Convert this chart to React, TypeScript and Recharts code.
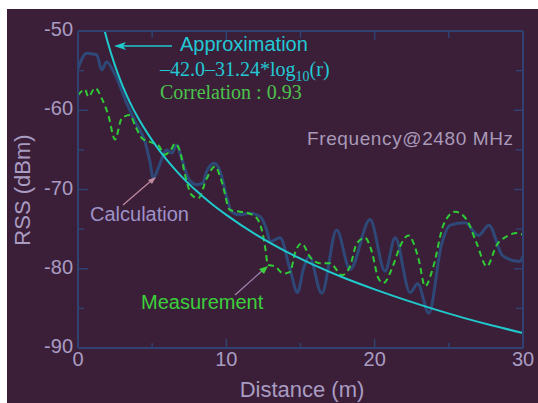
import React from "react";
import { LineChart, Line, XAxis, YAxis } from "recharts";

// Calculation (solid blue)
const calcX = [0, 0.59, 1.26, 1.6, 1.93, 2.5, 3.28, 3.84, 4.52, 4.85, 5.08, 5.41, 5.98, 6.32, 6.65, 6.99, 7.44, 8.0, 8.4, 8.68, 9.2, 9.6, 10.03, 10.36, 10.92, 11.6, 12.27, 12.72, 12.95, 13.62, 14.3, 14.8, 15.2, 15.6, 16.43, 17.44, 18.34, 19.69, 20.7, 21.38, 22.39, 22.9, 23.65, 24.5, 25.1, 26.1, 27.0, 27.7, 28.6, 29.4, 29.8, 30];
const calcY = [-54.7, -52.8, -53.0, -54.9, -53.9, -55.5, -59.1, -61.4, -64.0, -66.5, -68.6, -67.3, -65.0, -65.4, -64.4, -66.1, -68.6, -69.4, -69.2, -67.7, -66.7, -67.8, -71.0, -72.8, -73.2, -73.0, -73.4, -75.1, -76.6, -76.1, -80.1, -83.0, -80.0, -78.5, -83.1, -75.1, -80.1, -73.8, -80.3, -76.1, -83.0, -81.9, -85.6, -77.0, -74.5, -74.2, -75.8, -74.5, -78.3, -79.0, -79.1, -78.4];

// Measurement (dashed green)
const measX = [0, 0.47, 0.7, 1.15, 1.6, 2.04, 2.5, 2.95, 3.5, 3.84, 4.3, 4.85, 5.41, 5.87, 6.32, 6.54, 6.88, 7.22, 7.67, 8.11, 8.68, 9.24, 9.69, 10.25, 10.92, 11.49, 12.05, 12.39, 12.61, 12.8, 13.28, 13.84, 14.3, 14.63, 15.08, 15.64, 16.3, 16.99, 17.8, 18.34, 18.79, 19.35, 19.8, 20.25, 20.59, 21.26, 21.71, 22.27, 22.95, 23.4, 23.96, 24.63, 25.42, 26.2, 26.88, 27.56, 28.23, 28.91, 29.58, 30];
const measY = [-58.1, -57.4, -58.3, -57.2, -58.5, -60.6, -63.7, -61.0, -60.6, -61.9, -63.5, -64.0, -64.4, -65.6, -64.8, -64.2, -65.2, -68.2, -70.7, -71.1, -68.6, -67.1, -69.0, -72.6, -72.8, -73.0, -73.6, -75.1, -77.2, -79.5, -79.7, -80.6, -80.4, -78.0, -76.8, -78.5, -79.3, -79.3, -80.8, -79.7, -76.8, -76.1, -77.8, -81.2, -81.8, -79.5, -77.2, -75.8, -78.7, -82.2, -79.7, -74.5, -72.8, -73.8, -76.8, -79.7, -77.0, -75.9, -75.5, -75.7];

// Approximation (solid cyan)
const approxX = [1.8, 2, 2.5, 3, 3.5, 4, 5, 6, 7, 8, 9, 10, 12, 14, 16, 18, 20, 22, 24, 26, 28, 30];
const approxY = [-50.0, -51.4, -54.4, -56.9, -59.0, -60.8, -63.8, -66.3, -68.4, -70.2, -71.8, -73.2, -75.7, -77.8, -79.6, -81.2, -82.6, -83.9, -85.1, -86.2, -87.2, -88.1];

const xTicks = [0, 5, 10, 15, 20, 25, 30];
const yTicks = [-90, -85, -80, -75, -70, -65, -60, -55, -50];

const toRows = (xs: number[], ys: number[]) => xs.map((x, i) => ({ x, y: ys[i] }));
const calcData = toRows(calcX, calcY);
const measData = toRows(measX, measY);
const approxData = toRows(approxX, approxY);

const bg = "#3b1f38";
const axisColor = "#2f4272";
const labelColor = "#a99cc2";
const sans = "'Liberation Sans', Arial, sans-serif";
const serif = "'Liberation Serif', 'Times New Roman', serif";

const BottomTick = (props: any) => {
  const { x, y, payload } = props;
  const major = payload.value % 10 === 0;
  return (
    <g>
      <line x1={x} x2={x} y1={y} y2={y - (major ? 9 : 5)} stroke={axisColor} strokeWidth={1.5} />
      {major && (
        <text x={x} y={y + 18} textAnchor="middle" fontSize={20} fontFamily={sans} fill={labelColor}>
          {payload.value}
        </text>
      )}
    </g>
  );
};

const TopTick = (props: any) => {
  const { x, y, payload } = props;
  const major = payload.value % 10 === 0;
  return <line x1={x} x2={x} y1={y} y2={y + (major ? 9 : 7)} stroke={axisColor} strokeWidth={1.5} />;
};

const LeftTick = (props: any) => {
  const { x, y, payload } = props;
  const major = payload.value % 10 === 0;
  return (
    <g>
      <line x1={x} x2={x + (major ? 10 : 6)} y1={y} y2={y} stroke={axisColor} strokeWidth={1.5} />
      {major && (
        <text x={x - 5} y={y + 5} textAnchor="end" fontSize={20} fontFamily={sans} fill={labelColor}>
          {payload.value}
        </text>
      )}
    </g>
  );
};

const RightTick = (props: any) => {
  const { x, y, payload } = props;
  const major = payload.value % 10 === 0;
  return <line x1={x} x2={x - (major ? 9 : 7)} y1={y} y2={y} stroke={axisColor} strokeWidth={1.5} />;
};

export default function App() {
  return (
    <div style={{ position: "fixed", left: 0, top: 0, width: 538, height: 403, background: "#ffffff", overflow: "hidden" }}>
      <div style={{ position: "absolute", left: 7, top: 9, width: 531, height: 394, background: bg }} />
      <div style={{ position: "absolute", left: 0, top: 0 }}>
        <LineChart width={538} height={403} data={calcData} margin={{ top: 30, right: 14, bottom: 54, left: 77 }}>
          <XAxis
            dataKey="x"
            type="number"
            domain={[0, 30]}
            ticks={xTicks}
            allowDataOverflow
            height={1}
            tickSize={0}
            tickMargin={0}
            stroke={axisColor}
            strokeWidth={2}
            tick={<BottomTick />}
            interval={0}
          />
          <XAxis
            xAxisId="top"
            orientation="top"
            dataKey="x"
            type="number"
            domain={[0, 30]}
            ticks={xTicks}
            allowDataOverflow
            height={1}
            tickSize={0}
            tickMargin={0}
            stroke={axisColor}
            strokeWidth={2}
            tick={<TopTick />}
            interval={0}
          />
          <YAxis
            type="number"
            domain={[-90, -50]}
            ticks={yTicks}
            allowDataOverflow
            width={1}
            tickSize={0}
            tickMargin={0}
            stroke={axisColor}
            strokeWidth={2}
            tick={<LeftTick />}
            interval={0}
          />
          <YAxis
            yAxisId="right"
            orientation="right"
            type="number"
            domain={[-90, -50]}
            ticks={yTicks}
            allowDataOverflow
            width={1}
            tickSize={0}
            tickMargin={0}
            stroke={axisColor}
            strokeWidth={2}
            tick={<RightTick />}
            interval={0}
          />
          <Line data={calcData} dataKey="y" type="monotone" stroke="#2e4878" strokeWidth={3} dot={false} isAnimationActive={false} />
          <Line data={measData} dataKey="y" type="monotone" stroke="#2fcc36" strokeWidth={2} strokeDasharray="6 4" dot={false} isAnimationActive={false} />
          <Line data={approxData} dataKey="y" type="monotone" stroke="#1fc9cc" strokeWidth={2} dot={false} isAnimationActive={false} />
        </LineChart>
      </div>
      <svg width={538} height={403} style={{ position: "absolute", left: 0, top: 0, pointerEvents: "none" }}>
        <line x1={120} y1={46} x2={172} y2={46} stroke="#1fc9cc" strokeWidth={1.5} />
        <polygon points="114,46 126,42 123,46 126,50" fill="#1fc9cc" />
        <text x={180} y={51} fontSize={20} fontFamily={sans} fill="#22c8d4">Approximation</text>
        <text x={160} y={76} fontSize={20} fontFamily={serif} fill="#22c8d4">
          –42.0–31.24*log
          <tspan fontSize={14} dy={5}>10</tspan>
          <tspan dy={-5}>(r)</tspan>
        </text>
        <text x={160} y={99} fontSize={20} fontFamily={serif} fill="#4cc24c">Correlation : 0.93</text>
        <text x={307} y={145} fontSize={19} fontFamily={sans} fill="#a89ab8" textLength={206} lengthAdjust="spacing">
          Frequency@2480 MHz
        </text>
        <line x1={123} y1={205} x2={152} y2={180} stroke="#c08aa0" strokeWidth={1.2} />
        <polygon points="156,177 148,180 152,184" fill="#c08aa0" />
        <text x={90} y={221} fontSize={20} fontFamily={sans} fill="#9e92c8">Calculation</text>
        <line x1={235} y1={295} x2={263} y2={270} stroke="#a08ab0" strokeWidth={1.2} />
        <polygon points="268,266 259,269 264,274" fill="#3ccf3c" />
        <text x={141} y={309} fontSize={20} fontFamily={sans} fill="#3ccf3c">Measurement</text>
        <text
          x={22}
          y={190}
          fontSize={22}
          fontFamily={sans}
          fill={labelColor}
          textAnchor="middle"
          dominantBaseline="central"
          transform="rotate(-90 22 190)"
        >
          RSS (dBm)
        </text>
        <text x={302} y={397} fontSize={22} fontFamily={sans} fill={labelColor} textAnchor="middle">
          Distance (m)
        </text>
      </svg>
    </div>
  );
}
